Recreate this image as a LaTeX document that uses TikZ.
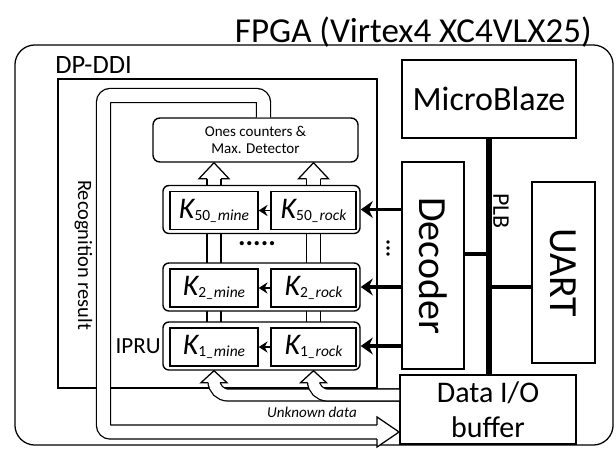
\documentclass[tikz,border=0pt]{standalone}
\usepackage{fontspec}
\setmainfont{Carlito}
\usetikzlibrary{arrows.meta,positioning,calc,backgrounds}
\tikzset{
  frame/.style={draw,line width=0.9pt,inner sep=0pt},
  blk/.style={draw,line width=1.3pt,inner sep=0pt,align=center},
  rowbox/.style={draw,line width=1pt,fill=white,rounded corners=0.15cm,
                 minimum width=4.925cm,minimum height=1.2cm},
  kbox/.style={draw,line width=1pt,fill=white,inner sep=0pt,minimum height=0.95cm},
  pipe/.style={double=white,line width=0.9pt},
  headst/.style={fill=white,line width=0.9pt,line join=miter},
  decarrow/.style={-{Stealth[length=0.3cm,width=0.42cm]},line width=2.4pt},
  karrow/.style={-{Stealth[length=0.22cm,width=0.28cm]},line width=1.4pt},
  plbline/.style={line width=3.6pt},
  stub/.style={line width=2.8pt},
}
\newcommand{\kname}[2]{{\fontsize{21.3}{24}\selectfont\itshape K}%
  \raisebox{-1.5pt}{\fontsize{11}{13}\selectfont #1{\itshape\_#2}}}
\newcommand{\uphead}[4]{\filldraw[headst]($(#1)+(-#2,#4)$)--($(#1)+(-#3,#4)$)--(#1)
  --($(#1)+(#3,#4)$)--($(#1)+(#2,#4)$);}

\begin{document}
\begin{tikzpicture}[x=0.025cm,y=-0.025cm]
  \useasboundingbox(0,0)rectangle(616,448);
  \node[frame,rounded corners=0.5cm,minimum width=14.95cm,minimum height=10cm](fpga)at(314,245){};
  \node[font=\fontsize{24.9}{29}\selectfont,anchor=base east,inner sep=0pt](title)at(592,42)
    {FPGA (Virtex4 XC4VLX25)};
  \node[frame,line width=1.3pt,minimum width=7.975cm,minimum height=7.725cm](ddi)at(217.5,233.5){};
  \node[font=\fontsize{18.8}{22}\selectfont,anchor=base west,inner sep=0pt](ddilbl)at(55,73){DP-DDI};

  \node[blk,minimum width=4.35cm,minimum height=1.95cm,font=\fontsize{24.2}{29}\selectfont]
    (mb)at(489,99){MicroBlaze};
  \node[blk,minimum width=1.55cm,minimum height=5.175cm](dec)at(433,265.5){};
  \node[rotate=-90,font=\fontsize{28.4}{32}\selectfont](declbl)at(dec){Decoder};
  \node[blk,minimum width=1.575cm,minimum height=4.525cm](uart)at(563.5,272.5){};
  \node[rotate=-90,font=\fontsize{28.4}{32}\selectfont](uartlbl)at(uart){UART};
  \node[blk,minimum width=4.4cm,minimum height=1.725cm,font=\fontsize{21.3}{24.9}\selectfont]
    (dio)at(488,409.5){Data I/O\\buffer};

  \coordinate(plb)at(mb.south);
  \draw[plbline](plb)--(plb|-dio.north);
  \coordinate(decplb)at([yshift=0.29cm]dec.east);
  \draw[stub](decplb)--(decplb-|plb);
  \coordinate(uartplb)at([yshift=-0.3625cm]uart.west);
  \draw[stub](uartplb)--(uartplb-|plb);
  \node[rotate=-90,font=\fontsize{17}{20}\selectfont](plblbl)at(501,211){PLB};

  \node[blk,line width=1pt,rounded corners=0.175cm,minimum width=5.125cm,minimum height=1.1cm,
        font=\fontsize{10.7}{12}\selectfont](ones)at(255.5,140){Ones counters \&\\Max. Detector};

  \node[rowbox](row50)at(261.5,209.5){};
  \node[rowbox](row2)at(261.5,287){};
  \node[rowbox](row1)at(261.5,346){};
  \node[kbox,minimum width=2.2cm](k50m)at(214,210.5){\kname{50}{mine}};
  \node[kbox,minimum width=2.125cm](k50r)at(313.5,210.5){\kname{50}{rock}};
  \node[kbox,minimum width=2.2cm](k2m)at(214,288){\kname{2}{mine}};
  \node[kbox,minimum width=2.125cm](k2r)at(313.5,288){\kname{2}{rock}};
  \node[kbox,minimum width=2.2cm](k1m)at(214,347){\kname{1}{mine}};
  \node[kbox,minimum width=2.125cm](k1r)at(313.5,347){\kname{1}{rock}};
  \draw[karrow](k50r.west)--(k50m.east);
  \draw[karrow](k2r.west)--(k2m.east);
  \draw[karrow](k1r.west)--(k1m.east);
  \draw[decarrow](dec.west|-row50.east)--(row50.east);
  \draw[decarrow](dec.west|-row2.east)--(row2.east);
  \draw[decarrow](dec.west|-row1.east)--(row1.east);
  \node[font=\fontsize{20}{24}\selectfont\bfseries](hdots)at(257,244){.....};
  \node[font=\fontsize{16}{20}\selectfont\bfseries,rotate=90](vdots)at(388,248){...};
  \node[font=\fontsize{16.4}{20}\selectfont,anchor=east,inner sep=1pt](ipru)at(row1.west){IPRU};
  \node[font=\fontsize{14.5}{17}\selectfont,rotate=-90](rlbl)at(83.5,255){Recognition result};
  \node[font=\fontsize{10.7}{13}\selectfont\itshape](udlbl)at(312,412){Unknown data};

  \begin{scope}[on background layer]
    \draw[pipe,double distance=0.318cm](k1m.center)--($(ones.south-|k1m)+(0,16)$);
    \draw[pipe,double distance=0.318cm](k1r.center)--($(ones.south-|k1r)+(0,16)$);
  \end{scope}
  \uphead{ones.south-|k1m}{7}{15}{16}
  \uphead{ones.south-|k1r}{7}{15}{16}

  \draw[pipe,double distance=0.268cm,rounded corners=0.35cm]([yshift=0.3625cm]dio.west)
    -|($(k1m|-row1.south)+(0,12)$);
  \uphead{k1m|-row1.south}{6}{13}{12}
  \draw[pipe,double distance=0.268cm,rounded corners=0.35cm]([yshift=0.3625cm]dio.west)
    -|($(k1r|-row1.south)+(0,12)$);
  \uphead{k1r|-row1.south}{6}{13}{12}

  \coordinate(rtip)at(dio.west|-0,432);
  \draw[pipe,double distance=0.318cm,rounded corners=0.17cm]([xshift=0.2cm]ones.north)
    |-(103.5,95.5)|-($(rtip)+(-22,0)$);
  \filldraw[headst]($(rtip)+(-22,-7)$)--($(rtip)+(-22,-15)$)--(rtip)
    --($(rtip)+(-22,15)$)--($(rtip)+(-22,7)$);
\end{tikzpicture}
\end{document}
